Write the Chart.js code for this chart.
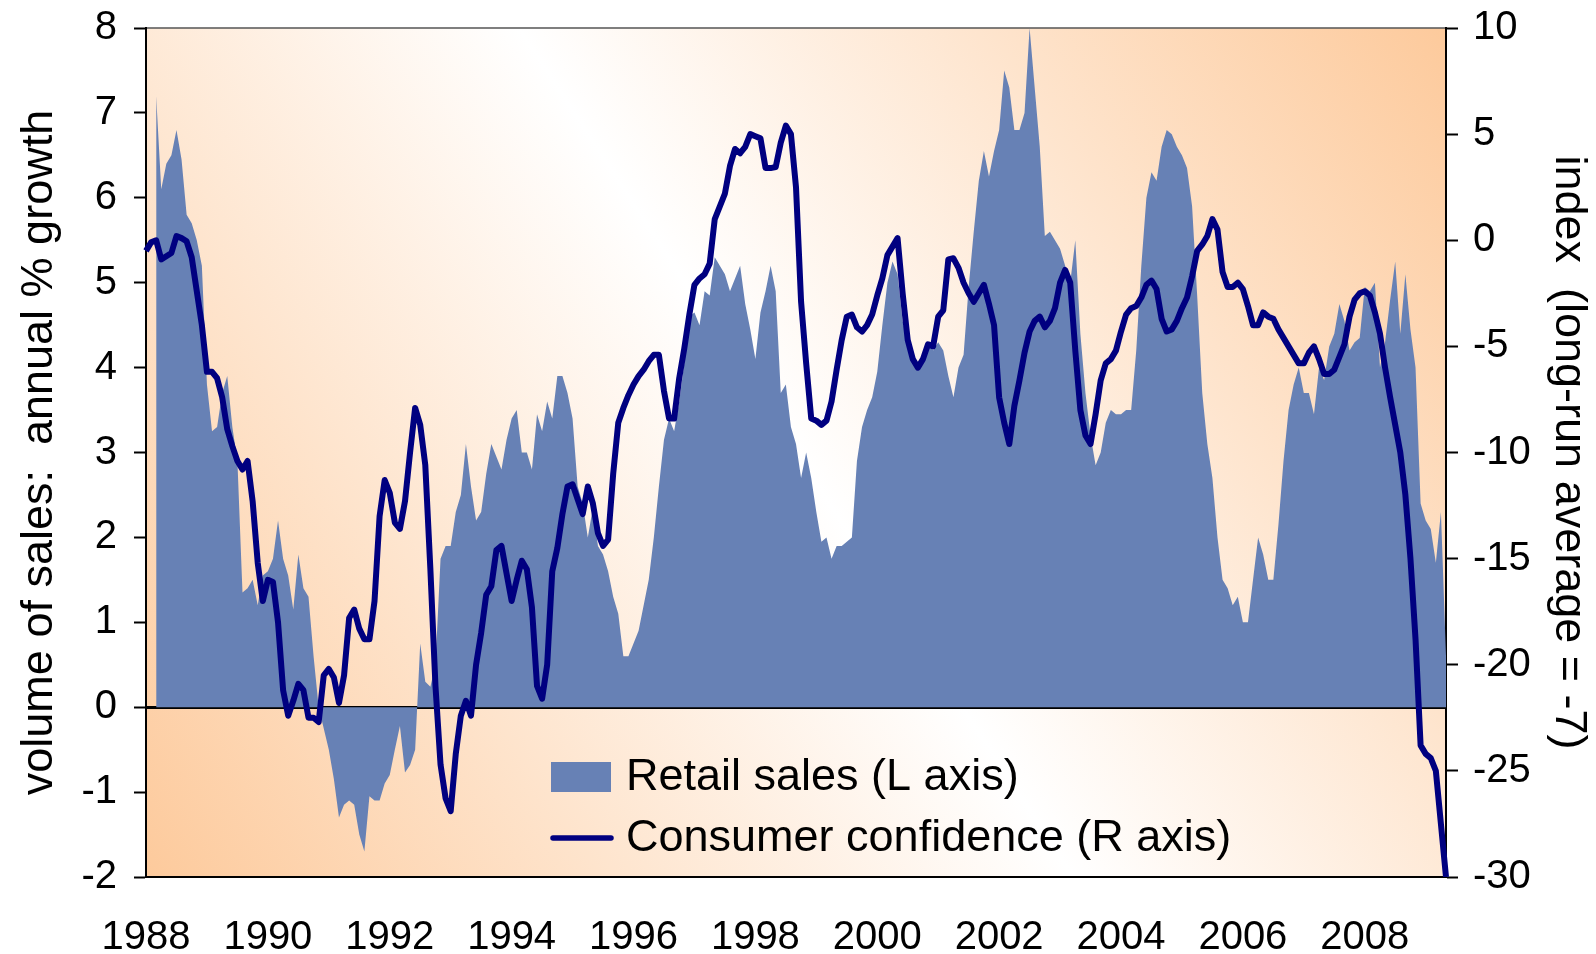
<!DOCTYPE html>
<html>
<head>
<meta charset="utf-8">
<title>Retail sales and consumer confidence</title>
<script src="https://cdn.jsdelivr.net/npm/chart.js@4.4.1/dist/chart.umd.min.js"></script>
<style>
  html, body { margin: 0; padding: 0; background: #fff; }
  #wrap { width: 1596px; height: 954px; }
</style>
</head>
<body>
<div id="wrap"><canvas id="chart" width="1596" height="954"></canvas></div>
<script>
(() => {

//----- Data -----//

    const startYear = 1988
    const yearLabels = ['1988', '1990', '1992', '1994', '1996', '1998', '2000', '2002', '2004', '2006', '2008']

    // volume of sales, annual % growth (monthly, Jan 1988 on)
    const retailSales = [
        null, null, 7.2, 6.1, 6.4, 6.5, 6.8, 6.45, 5.8, 5.7, 5.5, 5.2,          // 1988
        3.8, 3.25, 3.3, 3.7, 3.9, 3.3, 2.9, 1.35, 1.4, 1.5, 1.2, 1.55,          // 1989
        1.6, 1.75, 2.2, 1.75, 1.55, 1.15, 1.8, 1.4, 1.3, 0.6, 0.0, -0.25,       // 1990
        -0.5, -0.85, -1.3, -1.15, -1.1, -1.15, -1.5, -1.7, -1.05, -1.1, -1.1, -0.9, // 1991
        -0.8, -0.5, -0.22, -0.77, -0.68, -0.5, 0.75, 0.3, 0.24, 0.5, 1.75, 1.9,  // 1992
        1.9, 2.3, 2.5, 3.1, 2.6, 2.2, 2.3, 2.75, 3.1, 2.95, 2.8, 3.15,          // 1993
        3.4, 3.5, 3.0, 3.0, 2.8, 3.45, 3.25, 3.6, 3.4, 3.9, 3.9, 3.7,           // 1994
        3.4, 2.6, 2.4, 2.0, 2.35, 1.9, 1.8, 1.6, 1.3, 1.1, 0.6, 0.6,            // 1995
        0.75, 0.9, 1.2, 1.5, 2.0, 2.6, 3.15, 3.4, 3.25, 3.6, 4.05, 4.6,         // 1996
        4.65, 4.5, 4.9, 4.85, 5.3, 5.2, 5.1, 4.9, 5.05, 5.2, 4.75, 4.45,        // 1997
        4.1, 4.65, 4.9, 5.2, 4.9, 3.7, 3.8, 3.3, 3.1, 2.7, 3.0, 2.7,            // 1998
        2.3, 1.95, 2.0, 1.75, 1.9, 1.9, 1.95, 2.0, 2.9, 3.3, 3.5, 3.65,         // 1999
        3.95, 4.5, 5.0, 5.25, 5.1, 4.55, 4.3, 4.1, 4.0, 4.05, 4.3, 4.2,         // 2000
        4.3, 4.2, 3.9, 3.65, 4.0, 4.15, 4.95, 5.6, 6.2, 6.55, 6.25, 6.55,       // 2001
        6.8, 7.5, 7.3, 6.8, 6.8, 7.0, 8.0, 7.3, 6.6, 5.55, 5.6, 5.5,            // 2002
        5.4, 5.2, 5.0, 5.5, 4.4, 3.7, 3.2, 2.85, 3.0, 3.35, 3.5, 3.45,          // 2003
        3.45, 3.5, 3.5, 4.2, 5.2, 6.0, 6.3, 6.2, 6.6, 6.8, 6.75, 6.6,           // 2004
        6.5, 6.35, 5.9, 4.85, 3.7, 3.1, 2.7, 2.0, 1.5, 1.4, 1.2, 1.3,           // 2005
        1.0, 1.0, 1.5, 2.0, 1.8, 1.5, 1.5, 2.15, 2.9, 3.5, 3.8, 4.0,            // 2006
        3.7, 3.7, 3.45, 4.0, 3.85, 4.25, 4.4, 4.75, 4.55, 4.2, 4.3, 4.35,       // 2007
        4.95, 4.9, 5.0, 4.0, 4.3, 4.8, 5.25, 4.4, 5.1, 4.45, 4.0, 2.4,          // 2008
        2.2, 2.1, 1.7, 2.3, 0.6                                                 // 2009
    ]

    // consumer confidence index, relative to long-run average
    const consumerConfidence = [
        -0.5, -0.1, 0.0, -0.9, -0.75, -0.6, 0.2, 0.1, -0.05, -0.8, -2.4, -4.0,            // 1988
        -6.2, -6.2, -6.5, -7.4, -8.9, -9.7, -10.4, -10.8, -10.4, -12.3, -15.2, -17.0,     // 1989
        -16.0, -16.1, -18.0, -21.2, -22.4, -21.7, -20.9, -21.2, -22.5, -22.5, -22.7, -20.5, // 1990
        -20.2, -20.6, -21.8, -20.5, -17.8, -17.4, -18.3, -18.8, -18.8, -17.0, -13.0, -11.3, // 1991
        -11.9, -13.3, -13.6, -12.3, -10.0, -7.9, -8.7, -10.6, -15.5, -21.0, -24.7, -26.3,  // 1992
        -26.9, -24.2, -22.4, -21.7, -22.4, -20.0, -18.5, -16.7, -16.3, -14.6, -14.4, -15.7, // 1993
        -17.0, -16.0, -15.1, -15.5, -17.3, -21.0, -21.6, -20.0, -15.6, -14.5, -12.9, -11.6, // 1994
        -11.5, -12.2, -12.9, -11.6, -12.4, -13.8, -14.4, -14.1, -11.0, -8.6, -7.9, -7.3,   // 1995
        -6.8, -6.4, -6.1, -5.7, -5.4, -5.4, -7.1, -8.4, -8.4, -6.5, -5.1, -3.5,           // 1996
        -2.1, -1.8, -1.6, -1.1, 1.0, 1.6, 2.2, 3.5, 4.3, 4.1, 4.4, 5.0,                   // 1997
        4.9, 4.8, 3.4, 3.4, 3.45, 4.6, 5.4, 5.0, 2.5, -2.9, -5.8, -8.4,                   // 1998
        -8.5, -8.7, -8.5, -7.6, -6.1, -4.7, -3.6, -3.5, -4.1, -4.3, -4.0, -3.5,           // 1999
        -2.6, -1.8, -0.7, -0.3, 0.1, -2.5, -4.7, -5.6, -6.0, -5.6, -4.9, -5.0,            // 2000
        -3.6, -3.3, -0.9, -0.85, -1.3, -2.0, -2.5, -2.9, -2.5, -2.1, -3.0, -4.0,          // 2001
        -7.4, -8.6, -9.6, -7.8, -6.6, -5.3, -4.3, -3.8, -3.6, -4.1, -3.8, -3.2,           // 2002
        -2.0, -1.4, -2.0, -5.2, -8.0, -9.2, -9.6, -8.2, -6.6, -5.8, -5.6, -5.2,           // 2003
        -4.3, -3.5, -3.2, -3.1, -2.7, -2.1, -1.9, -2.3, -3.7, -4.3, -4.2, -3.8,           // 2004
        -3.2, -2.7, -1.7, -0.5, -0.2, 0.2, 1.0, 0.5, -1.5, -2.2, -2.2, -2.0,              // 2005
        -2.3, -3.1, -4.0, -4.0, -3.4, -3.6, -3.7, -4.2, -4.6, -5.0, -5.4, -5.8,           // 2006
        -5.8, -5.3, -5.0, -5.6, -6.3, -6.3, -6.1, -5.5, -4.9, -3.6, -2.8, -2.5,           // 2007
        -2.4, -2.6, -3.4, -4.4, -6.0, -7.4, -8.7, -10.0, -12.0, -15.0, -18.8, -23.8,      // 2008
        -24.2, -24.4, -25.0, -27.5, -30.0                                                 // 2009
    ]

    const months = []
    for (let i = 0; i < retailSales.length; i++) {
        const yr = startYear + Math.floor(i / 12)
        months.push(yr + '-' + String(i % 12 + 1).padStart(2, '0'))
    }

//----- Style -----//

    const FONT = '"Liberation Sans", Arial, sans-serif'
    const areaColour = '#6781b5'
    const lineColour = '#000080'
    const orange = '#fdca9c'

//----- Plugins -----//

    // gradient plot background plus thin frame
    const plotBackground = {
        id: 'plotBackground',
        beforeDraw(chart) {
            const {ctx, chartArea: a} = chart
            const g = ctx.createLinearGradient(a.left, a.bottom, a.right, a.top)
            g.addColorStop(0, orange)
            g.addColorStop(0.5, '#ffffff')
            g.addColorStop(1, orange)
            ctx.save()
            ctx.fillStyle = g
            ctx.fillRect(a.left, a.top, a.width, a.height)
            ctx.strokeStyle = '#555'
            ctx.lineWidth = 1.5
            ctx.strokeRect(a.left, a.top, a.width, a.height)
            ctx.restore()
        }
    }

    // legend sitting inside the plot, bottom middle
    const insideLegend = {
        id: 'insideLegend',
        afterDatasetsDraw(chart) {
            const {ctx, chartArea: a} = chart
            const x = a.left + 405
            ctx.save()
            ctx.font = '45px ' + FONT
            ctx.textBaseline = 'middle'
            chart.data.datasets.forEach((ds, i) => {
                const y = a.bottom - 100 + i * 61
                if (ds.fill) {
                    ctx.fillStyle = ds.backgroundColor
                    ctx.fillRect(x, y - 15, 60, 30)
                } else {
                    ctx.strokeStyle = ds.borderColor
                    ctx.lineWidth = 5.5
                    ctx.lineCap = 'round'
                    ctx.beginPath()
                    ctx.moveTo(x + 2, y)
                    ctx.lineTo(x + 60, y)
                    ctx.stroke()
                }
                ctx.fillStyle = '#000'
                ctx.fillText(ds.label, x + 75, y + 1)
            })
            ctx.restore()
        }
    }

//----- Create Chart -----//

    const tickFont = { family: FONT, size: 40 }
    const titleFont = { family: FONT, size: 45 }

    // pin the axis boxes so the plot area lands where the original has it
    function fixVertical(width) {
        return (s) => { s.width = width; s.paddingTop = 0; s.paddingBottom = 0 }
    }

    new Chart(document.getElementById('chart'), {
        type: 'line',
        data: {
            labels: months,
            datasets: [
                {
                    label: 'Retail sales (L axis)',
                    data: retailSales,
                    yAxisID: 'y',
                    fill: 'origin',
                    backgroundColor: areaColour,
                    borderWidth: 0,
                    pointRadius: 0,
                    order: 2
                },
                {
                    label: 'Consumer confidence (R axis)',
                    data: consumerConfidence,
                    yAxisID: 'y1',
                    fill: false,
                    borderColor: lineColour,
                    borderWidth: 6,
                    borderJoinStyle: 'round',
                    pointRadius: 0,
                    order: 1
                }
            ]
        },
        options: {
            responsive: false,
            animation: false,
            layout: { autoPadding: false, padding: { top: 28, left: 0, right: 0, bottom: 0 } },
            plugins: {
                legend: { display: false },
                tooltip: { enabled: false }
            },
            scales: {
                x: {
                    type: 'category',
                    offset: false,
                    grid: { display: false },
                    border: { display: true, color: '#000', width: 2 },
                    ticks: {
                        autoSkip: false,
                        maxRotation: 0,
                        minRotation: 0,
                        padding: 29,
                        color: '#000',
                        font: tickFont,
                        callback: function (value) {
                            const lab = this.getLabelForValue(value)
                            const yr = lab.slice(0, 4)
                            return lab.endsWith('-01') && yearLabels.includes(yr) ? yr : null
                        }
                    },
                    afterFit: (s) => { s.height = 77; s.paddingLeft = 0; s.paddingRight = 0 }
                },
                y: {
                    position: 'left',
                    min: -2,
                    max: 8,
                    ticks: { stepSize: 1, padding: 17, color: '#000', font: tickFont },
                    grid: {
                        drawOnChartArea: true,
                        tickLength: 12,
                        tickColor: '#000',
                        tickWidth: 2,
                        color: (c) => c.tick && c.tick.value === 0 ? '#000' : 'rgba(0,0,0,0)',
                        lineWidth: (c) => c.tick && c.tick.value === 0 ? 3 : 1
                    },
                    border: { display: true, color: '#000', width: 2 },
                    title: {
                        display: true,
                        text: 'volume of sales:  annual % growth',
                        color: '#000',
                        font: titleFont,
                        padding: { top: 13, bottom: 0 }
                    },
                    afterFit: fixVertical(146)
                },
                y1: {
                    position: 'right',
                    min: -30,
                    max: 10,
                    ticks: { stepSize: 5, padding: 15, color: '#000', font: tickFont },
                    grid: {
                        drawOnChartArea: false,
                        tickLength: 12,
                        tickColor: '#000',
                        tickWidth: 2
                    },
                    border: { display: true, color: '#000', width: 2 },
                    title: {
                        display: true,
                        text: 'index  (long-run average = -7)',
                        color: '#000',
                        font: titleFont,
                        padding: { top: 1, bottom: 0 }
                    },
                    afterFit: fixVertical(150)
                }
            }
        },
        plugins: [plotBackground, insideLegend]
    })

})();
</script>
</body>
</html>
